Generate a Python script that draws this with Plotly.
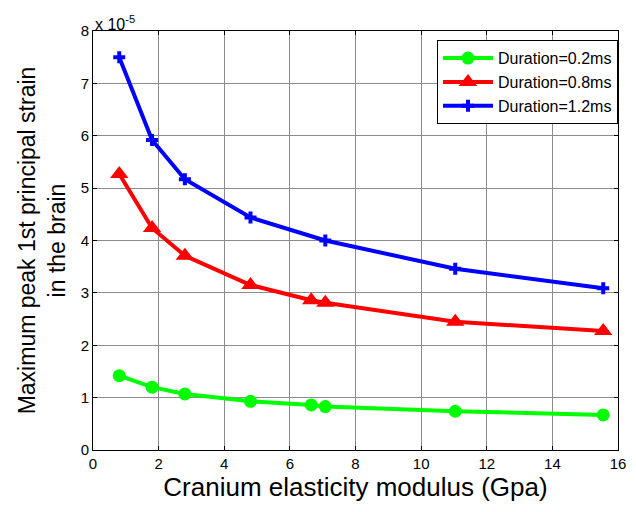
import plotly.graph_objects as go

# Cranium elasticity modulus (GPa)
x_green = [0.8, 1.8, 2.8, 4.8, 6.65, 7.08, 11.04, 15.55]
y_green = [1.42, 1.20, 1.07, 0.93, 0.86, 0.83, 0.74, 0.67]  # x 1e-5
x_red = [0.8, 1.8, 2.8, 4.8, 6.65, 7.08, 11.04, 15.55]
y_red = [5.27, 4.24, 3.71, 3.15, 2.86, 2.81, 2.45, 2.27]
x_blue = [0.8, 1.8, 2.8, 4.8, 7.08, 11.04, 15.55]
y_blue = [7.50, 5.92, 5.17, 4.44, 4.00, 3.46, 3.09]
names = ["Duration=0.2ms", "Duration=0.8ms", "Duration=1.2ms"]
x_ticks = [0, 2, 4, 6, 8, 10, 12, 14, 16]
y_ticks = [0, 1, 2, 3, 4, 5, 6, 7, 8]

fig = go.Figure()
fig.add_trace(go.Scatter(x=x_green, y=y_green, name=names[0], mode="lines+markers",
                         line=dict(color="#00ff00", width=4),
                         marker=dict(symbol="circle", size=13, color="#00ff00")))
fig.add_trace(go.Scatter(x=x_red, y=y_red, name=names[1], mode="lines+markers",
                         line=dict(color="#ff0000", width=4),
                         marker=dict(symbol="triangle-up", size=16, color="#ff0000")))
fig.add_trace(go.Scatter(x=x_blue, y=y_blue, name=names[2], mode="lines+markers",
                         line=dict(color="#0000ff", width=4),
                         marker=dict(symbol="cross", size=10, color="#0000ff")))

axis_common = dict(showline=True, linecolor="black", linewidth=1, mirror="ticks",
                   ticks="inside", ticklen=4, tickcolor="black",
                   showgrid=True, gridcolor="#8c8c8c", gridwidth=1, zeroline=False,
                   tickfont=dict(family="Arial, Liberation Sans", size=15, color="black"))

fig.update_layout(
    width=636, height=512,
    margin=dict(l=93, r=10, t=31, b=62),
    paper_bgcolor="white", plot_bgcolor="white",
    font=dict(family="Arial, Liberation Sans", color="black"),
    xaxis=dict(range=[0, 16], tickvals=x_ticks,
               title=dict(text="Cranium elasticity modulus (Gpa)", font=dict(size=26), standoff=6),
               **axis_common),
    yaxis=dict(range=[0, 8], tickvals=y_ticks,
               title=dict(text="Maximum peak 1st principal strain<br>in the brain", font=dict(size=23), standoff=8),
               **axis_common),
    legend=dict(x=1.0, y=0.978, xanchor="right", yanchor="top",
                bgcolor="white", bordercolor="black", borderwidth=1,
                font=dict(size=16), itemwidth=50, tracegroupgap=0),
    showlegend=True,
)
fig.add_annotation(text="x 10<sup>-5</sup>", xref="paper", yref="paper", x=0.0, y=1.0,
                   xanchor="left", yanchor="bottom", showarrow=False,
                   font=dict(size=16, color="black"), yshift=-4)

fig.write_html("out.html")
